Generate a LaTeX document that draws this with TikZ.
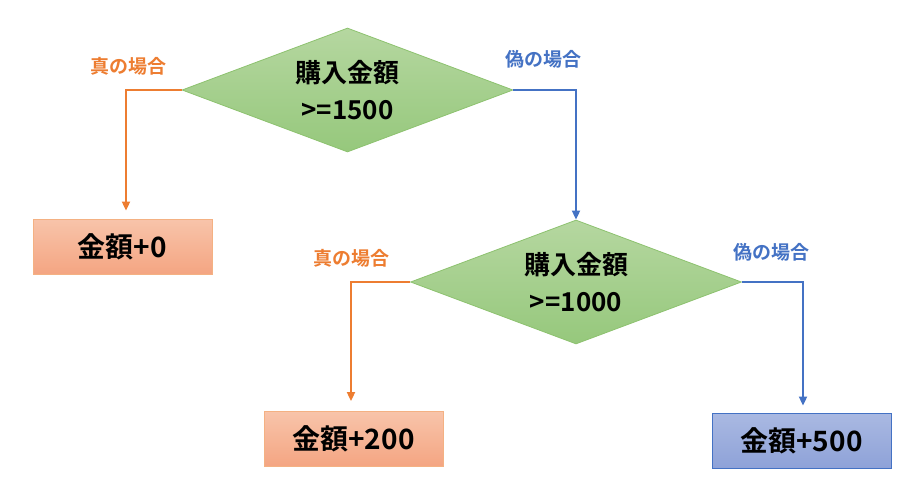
\documentclass[tikz,border=0pt]{standalone}
\usepackage{fontspec}
\setmainfont{Noto Sans CJK JP}[BoldFont={* Bold}]
\usetikzlibrary{shapes.geometric,arrows.meta}
\definecolor{grnA}{HTML}{B5D7A0}
\definecolor{grnB}{HTML}{96C87C}
\definecolor{grnD}{HTML}{8DC26F}
\definecolor{orA}{HTML}{F8C4AA}
\definecolor{orB}{HTML}{F4A582}
\definecolor{orD}{HTML}{F4B183}
\definecolor{blA}{HTML}{AAB9E2}
\definecolor{blB}{HTML}{8EA2D8}
\definecolor{blD}{HTML}{4472C4}
\definecolor{orL}{HTML}{ED7D31}
\definecolor{blL}{HTML}{4472C4}
\tikzset{
  decision/.style={diamond, draw=grnD, line width=0.8pt, top color=grnA, bottom color=grnB,
    minimum width=331pt, minimum height=124pt, inner sep=0pt, aspect=2.67,
    font=\fontsize{26}{37}\selectfont\bfseries, align=center, text=black},
  resultO/.style={rectangle, draw=orD, line width=0.8pt, top color=orA, bottom color=orB,
    minimum width=179pt, minimum height=55pt, inner sep=0pt,
    font=\fontsize{28}{30}\selectfont\bfseries, text=black},
  resultB/.style={resultO, draw=blD, top color=blA, bottom color=blB},
  flowO/.style={draw=orL, line width=1.8pt, -{Triangle[length=9pt,width=8pt]}},
  flowB/.style={draw=blL, line width=1.8pt, -{Triangle[length=9pt,width=8pt]}},
  lblO/.style={text=orL, font=\fontsize{19}{22}\selectfont\bfseries},
  lblB/.style={text=blL, font=\fontsize{19}{22}\selectfont\bfseries},
}
\begin{document}
\begin{tikzpicture}[x=1pt,y=-1pt]
\useasboundingbox (0,0) rectangle (903,501);
\node[decision] (d1) at (347.5,90) {購入金額\\>=1500};
\node[decision] (d2) at (576,282) {購入金額\\>=1000};
\node[resultO] (r0) at (122.5,246.5) {金額+0};
\node[resultO] (r200) at (353.5,439) {金額+200};
\node[resultB] (r500) at (801.5,440.5) {金額+500};
\coordinate (c1) at (126,90);
\coordinate (c2) at (576,90);
\coordinate (c3) at (351,282);
\coordinate (c4) at (803,282);
\draw[flowO] (d1.west) -- (c1) -- ([yshift=8pt]r0.north -| c1);
\draw[flowB] (d1.east) -- (c2) -- (d2.north);
\draw[flowO] (d2.west) -- (c3) -- ([yshift=10pt]r200.north -| c3);
\draw[flowB] (d2.east) -- (c4) -- ([yshift=7pt]r500.north -| c4);
\node[lblO] (t1) at (128,66) {真の場合};
\node[lblB] (f1) at (543,59) {偽の場合};
\node[lblO] (t2) at (351,258) {真の場合};
\node[lblB] (f2) at (771,252) {偽の場合};
\end{tikzpicture}
\end{document}
